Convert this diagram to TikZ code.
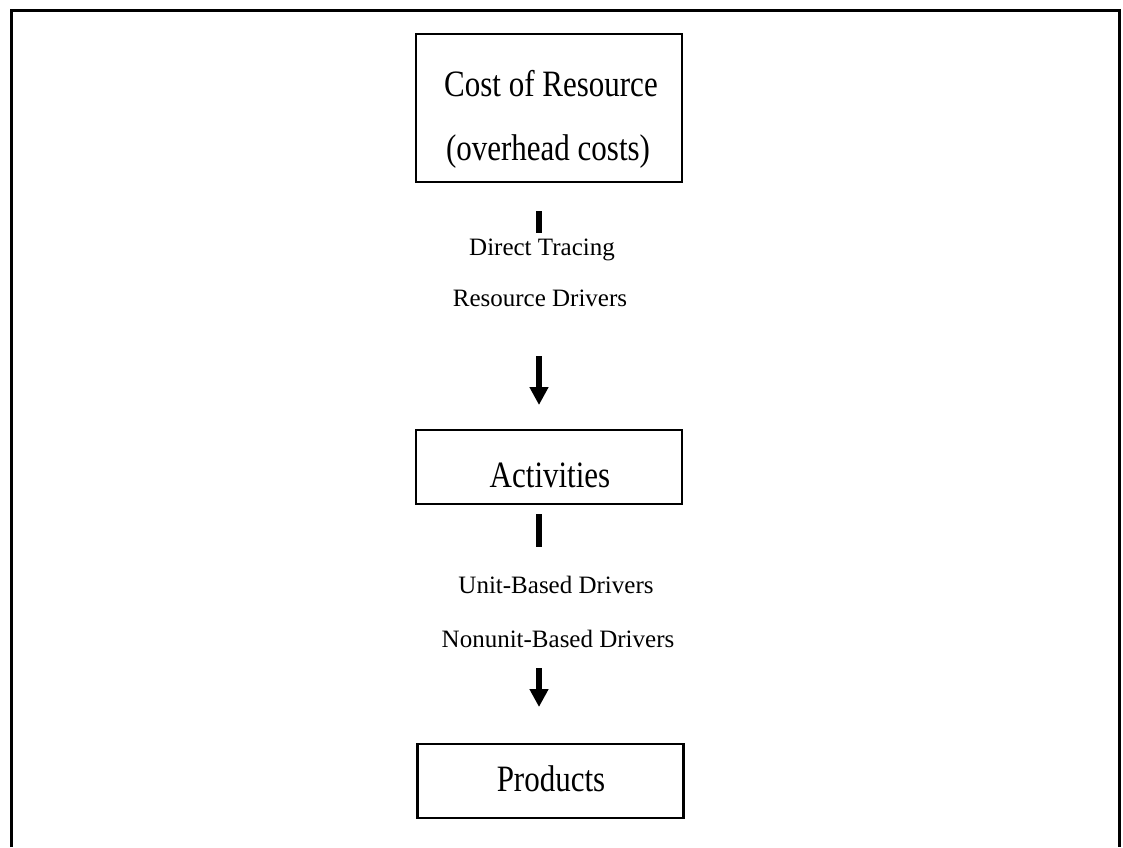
\documentclass[tikz,border=0pt]{standalone}
\usepackage{graphicx}
\usepackage{fontspec}
\setmainfont{Liberation Serif}
\usetikzlibrary{arrows.meta}

\tikzset{
  frameline/.style={line width=3pt, line cap=butt},
  boxframe/.style={draw, line width=2.4pt, minimum width=266pt, inner sep=0pt},
  boxtext/.style={anchor=base, inner sep=0pt, font=\fontsize{31}{31}\selectfont},
  drivertext/.style={anchor=base, inner sep=0pt, font=\fontsize{25}{25}\selectfont},
  stub/.style={line width=6pt},
  flowarrow/.style={line width=6pt, -{Triangle[width=18pt,length=18pt]}}
}
\newcommand{\tall}[1]{\scalebox{1}[1.2]{#1}}

\begin{document}
\begin{tikzpicture}[x=1pt, y=-1pt]
  \useasboundingbox (0,0) rectangle (1123,847);

  % outer frame, open at the bottom
  \draw[frameline] (11,847) -- (11,10) -- (1119,10) -- (1119,847);

  % boxes
  \node[boxframe, minimum height=148pt] (cost) at (549,108) {};
  \node[boxframe, minimum height=74pt]  (act)  at (549,467) {};
  \node[boxframe, minimum height=74pt]  (prod) at (550.5,781) {};

  % box texts
  \node[boxtext] (costA) at (551,96)  {\tall{Cost of Resource}};
  \node[boxtext] (costB) at (548,160) {\tall{(overhead costs)}};
  \node[boxtext] (actT)  at (550,487) {\tall{Activities}};
  \node[boxtext] (prodT) at (551,791) {\tall{Products}};

  % driver labels
  \node[drivertext] (dt)  at (542,255) {Direct Tracing};
  \node[drivertext] (rd)  at (540,306) {Resource Drivers};
  \node[drivertext] (ub)  at (556,593) {Unit-Based Drivers};
  \node[drivertext] (nub) at (558,647) {Nonunit-Based Drivers};

  % arrow pieces
  \coordinate (s1a) at (539,211);
  \coordinate (s1b) at (539,233);
  \coordinate (a1a) at (539,356);
  \coordinate (a1b) at (539,405);
  \coordinate (s2a) at (539,514);
  \coordinate (s2b) at (539,547);
  \coordinate (a2a) at (539,668);
  \coordinate (a2b) at (539,707);

  \draw[stub] (s1a) -- (s1b);
  \draw[flowarrow] (a1a) -- (a1b);
  \draw[stub] (s2a) -- (s2b);
  \draw[flowarrow] (a2a) -- (a2b);
\end{tikzpicture}
\end{document}
